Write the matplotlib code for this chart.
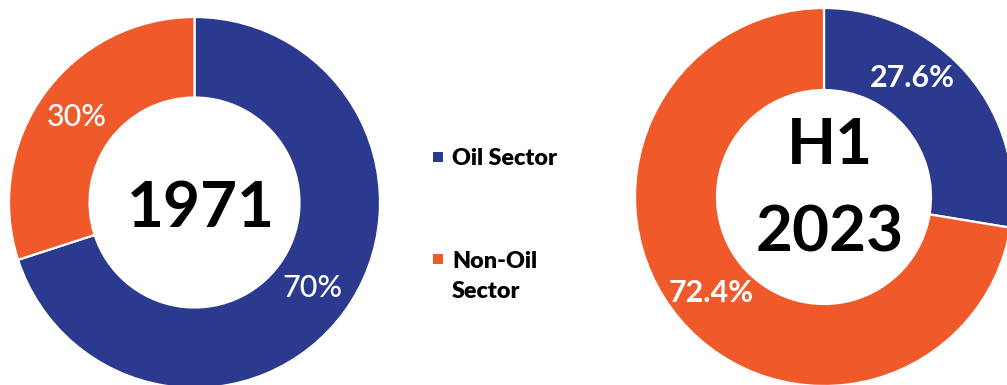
import numpy as np
import matplotlib.pyplot as plt

plt.rcParams['font.family'] = ['Lato', 'DejaVu Sans']

# data
sectors = ['Oil Sector', 'Non-Oil Sector']
legend_labels = ['Oil Sector', 'Non-Oil\nSector']
colors = ['#2B3A8E', '#F05A2B']
share_1971 = [70, 30]
share_2023 = [27.6, 72.4]
pct_1971 = ['70%', '30%']
pct_2023 = ['27.6%', '72.4%']
titles = ['1971', 'H1\n2023']

W, H = 1007, 385
fig = plt.figure(figsize=(W / 100, H / 100), dpi=100)
ax = fig.add_axes([0, 0, 1, 1])


def donut(cx, cy, r, values, pct, title, title_base, pct_weight, nudge=None):
    cy = H - cy
    wedges, _ = ax.pie(values, colors=colors, startangle=90, counterclock=False,
                       radius=r, center=(cx, cy),
                       wedgeprops=dict(width=r * 0.434, edgecolor='white', linewidth=1.6))
    for i, (w, lab) in enumerate(zip(wedges, pct)):
        ang = (w.theta1 + w.theta2) / 2
        if nudge and i in nudge:
            ang = nudge[i]
        a = np.deg2rad(ang)
        ax.text(cx + 0.785 * r * np.cos(a), cy + 0.785 * r * np.sin(a), lab,
                color='white', fontsize=22, fontweight=pct_weight,
                ha='center', va='center')
    # title_base: baseline of last line, px from top
    ax.text(cx + 6, H - title_base, title, fontsize=46, fontweight='bold', color='black',
            ha='center', va='baseline', linespacing=1.65)


donut(194.5, 202.5, 185.5, share_1971, pct_1971, titles[0], 227, 'medium')
donut(824, 197, 189, share_2023, pct_2023, titles[1], 252, 'bold', nudge={0: 53.5})

# legend
leg_y = [157, 258.5]
for y, lab, c in zip(leg_y, legend_labels, colors):
    ax.scatter([438], [H - y], marker='s', s=55, color=c, linewidths=0)
    if '\n' in lab:
        ax.text(452, H - y + 8, lab, fontsize=16.8, fontweight='heavy', color='black',
                ha='left', va='top', linespacing=1.55)
    else:
        ax.text(452, H - y - 1.5, lab, fontsize=16.8, fontweight='heavy', color='black',
                ha='left', va='center')

ax.set_xlim(0, W)
ax.set_ylim(0, H)
ax.set_aspect('auto')
ax.axis('off')

fig.savefig('out.png', dpi=100, facecolor='white')
